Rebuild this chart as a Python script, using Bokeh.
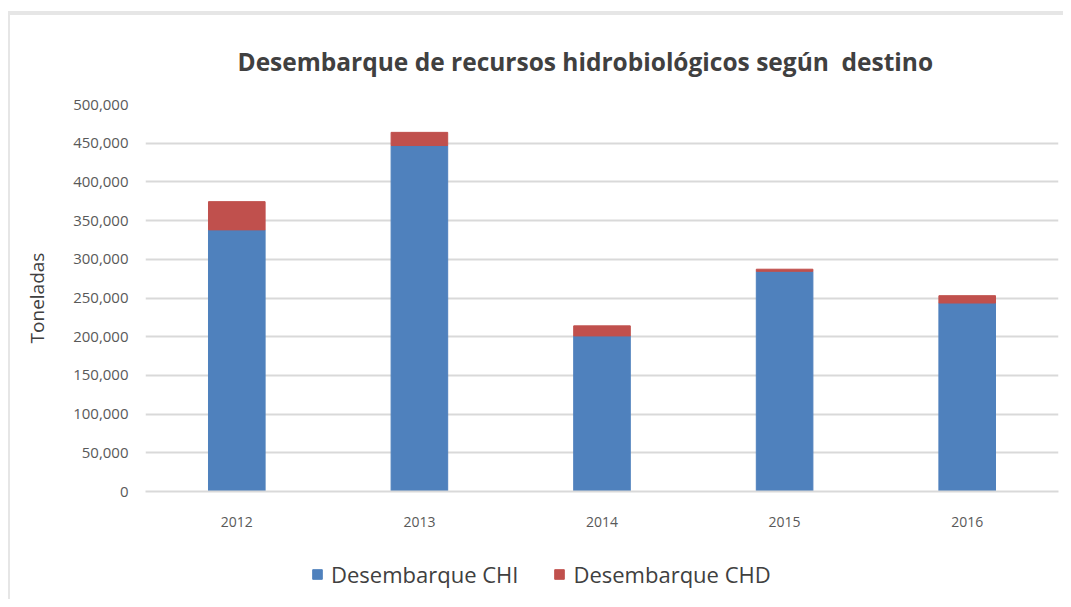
from bokeh.plotting import figure
from bokeh.layouts import column
from bokeh.models import (ColumnDataSource, NumeralTickFormatter, Legend, LegendItem,
                          Range1d, FixedTicker)
from bokeh.embed import file_html
from bokeh.resources import INLINE

years = ["2012", "2013", "2014", "2015", "2016"]
chi = [338000, 447000, 201000, 284500, 243500]
chd = [36500, 17000, 13000, 2700, 9500]
series = ["Desembarque CHI", "Desembarque CHD"]
colors = ["#4f81bd", "#c0504d"]
y_ticks = [0, 50000, 100000, 150000, 200000, 250000, 300000, 350000, 400000, 450000, 500000]

src = ColumnDataSource(dict(years=years, chi=chi, chd=chd))

p = figure(x_range=years, y_range=Range1d(0, 500000), width=1053, height=516,
           output_backend="svg", toolbar_location=None,
           min_border_left=135, min_border_right=5, min_border_top=89, min_border_bottom=40)

r = p.vbar_stack(["chi", "chd"], x="years", width=0.31, color=colors, source=src)

p.title.text = "Desembarque de recursos hidrobiológicos según\u00a0 destino"
p.title.text_font = "Open Sans"
p.title.text_font_size = "24.5px"
p.title.text_font_style = "bold"
p.title.text_color = "#404040"
p.title.align = "left"
p.title.offset = 92
p.title.standoff = 54

p.outline_line_color = None
p.xgrid.grid_line_color = None
p.ygrid.grid_line_color = "#d9d9d9"
p.ygrid.grid_line_width = 2
p.yaxis.ticker = FixedTicker(ticks=y_ticks)
p.yaxis.formatter = NumeralTickFormatter(format="0,0")
p.yaxis.axis_line_color = None
p.yaxis.major_tick_line_color = None
p.yaxis.minor_tick_line_color = None
p.yaxis.major_label_text_color = "#595959"
p.yaxis.major_label_text_font = "Open Sans"
p.yaxis.major_label_text_font_size = "15px"
p.yaxis.major_label_standoff = 11
p.yaxis.axis_label = "Toneladas"
p.yaxis.axis_label_text_font = "Open Sans"
p.yaxis.axis_label_text_font_style = "normal"
p.yaxis.axis_label_text_font_size = "19px"
p.yaxis.axis_label_text_color = "#404040"
p.yaxis.axis_label_standoff = 20

p.xaxis.axis_line_color = "#d9d9d9"
p.xaxis.axis_line_width = 2
p.xaxis.major_tick_line_color = None
p.xaxis.minor_tick_line_color = None
p.xaxis.major_label_text_color = "#595959"
p.xaxis.major_label_text_font = "Open Sans"
p.xaxis.major_label_text_font_size = "14px"
p.xaxis.major_label_standoff = 19

# legend strip below the chart (same series, drawn outside its visible range)
p2 = figure(x_range=years, y_range=Range1d(1000000, 2000000), width=1053, height=68,
            output_backend="svg", toolbar_location=None,
            min_border_left=0, min_border_right=0, min_border_top=0, min_border_bottom=0)
p2.axis.visible = False
p2.grid.visible = False
p2.outline_line_color = None
lr = p2.vbar_stack(["chi", "chd"], x="years", width=0.31, color=colors, source=src)
legend = Legend(items=[LegendItem(label=series[i], renderers=[lr[i]]) for i in range(2)],
                orientation="horizontal", location=(166, 10),
                label_text_font="Open Sans", label_text_font_size="22px",
                label_text_color="#404040", border_line_color=None,
                background_fill_alpha=0, glyph_width=12, glyph_height=12,
                spacing=35, label_standoff=8)
p2.add_layout(legend, "center")

layout = column(p, p2, spacing=0)
layout.styles = {"margin-left": "8px", "margin-top": "11px",
                 "border-top": "4px solid #e6e6e6", "border-left": "2px solid #e6e6e6"}

open("out.html", "w").write(file_html(layout, INLINE))
